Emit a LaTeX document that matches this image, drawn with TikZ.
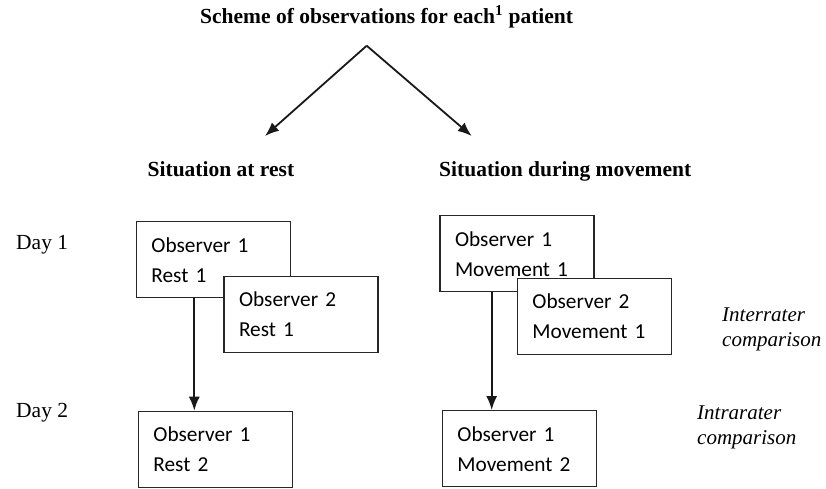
\documentclass[tikz,border=0pt]{standalone}
\usepackage{fontspec}
\setmainfont{Liberation Serif}
\newfontfamily\boxfont{Carlito}
\usetikzlibrary{arrows.meta,calc}
\tikzset{
  obsbox/.style={draw=black!85, line width=1.4pt, fill=white, anchor=north west,
    minimum width=154pt, minimum height=76pt, inner xsep=15pt, inner ysep=0pt,
    text width=124pt, align=left, font=\boxfont\fontsize{21.3}{30}\selectfont},
  lbl/.style={inner sep=0pt, anchor=base west},
  head/.style={lbl, font=\bfseries\fontsize{21.5}{26}\selectfont},
  daylbl/.style={lbl, font=\fontsize{21.5}{26}\selectfont},
  cmp/.style={inner sep=0pt, anchor=north west, align=left, font=\itshape\fontsize{21}{25}\selectfont},
  arr/.style={line width=1.8pt, draw=black!90, -{Latex[length=14pt,width=11pt]}}
}
\begin{document}
\begin{tikzpicture}[x=1pt,y=-1pt]
\useasboundingbox (0,0) rectangle (826,488);
% title and headings
\node[head] (title) at (200,23.5) {Scheme of observations for each\textsuperscript{1} patient};
\coordinate (apex) at (366.7,45.7);
\node[head] (rest) at (147.5,176) {Situation at rest};
\node[head] (move) at (439,176) {Situation during movement};
\coordinate (tipL) at (265,136);
\coordinate (tipR) at (471.7,136);
\draw[arr] (apex) -- (tipL);
\draw[arr] (apex) -- (tipR);
% day labels
\node[daylbl] (day1) at (16,249) {Day 1};
\node[daylbl] (day2) at (16,417) {Day 2};
% boxes
\node[obsbox] (A) at (135.7,221) {Observer 1\\Rest 1};
\node[obsbox] (B) at (223.3,275.7) {Observer 2\\Rest 1};
\node[obsbox] (C) at (137.7,410.7) {Observer 1\\Rest 2};
\node[obsbox] (D) at (439.3,215) {Observer 1\\Movement 1};
\node[obsbox] (E) at (516.7,277.7) {Observer 2\\Movement 1};
\node[obsbox] (F) at (441.7,410) {Observer 1\\Movement 2};
% vertical arrows
\coordinate (a1) at ($(A.south west)+(58.6,0)$);
\draw[arr] (a1) -- (a1 |- C.north);
\coordinate (d1) at ($(D.south west)+(52.4,0)$);
\draw[arr] (d1) -- (d1 |- F.north);
% comparison labels
\node[cmp] (inter) at (722,308) {Interrater\\comparison};
\node[cmp] (intra) at (697,406) {Intrarater\\comparison};
\end{tikzpicture}
\end{document}
